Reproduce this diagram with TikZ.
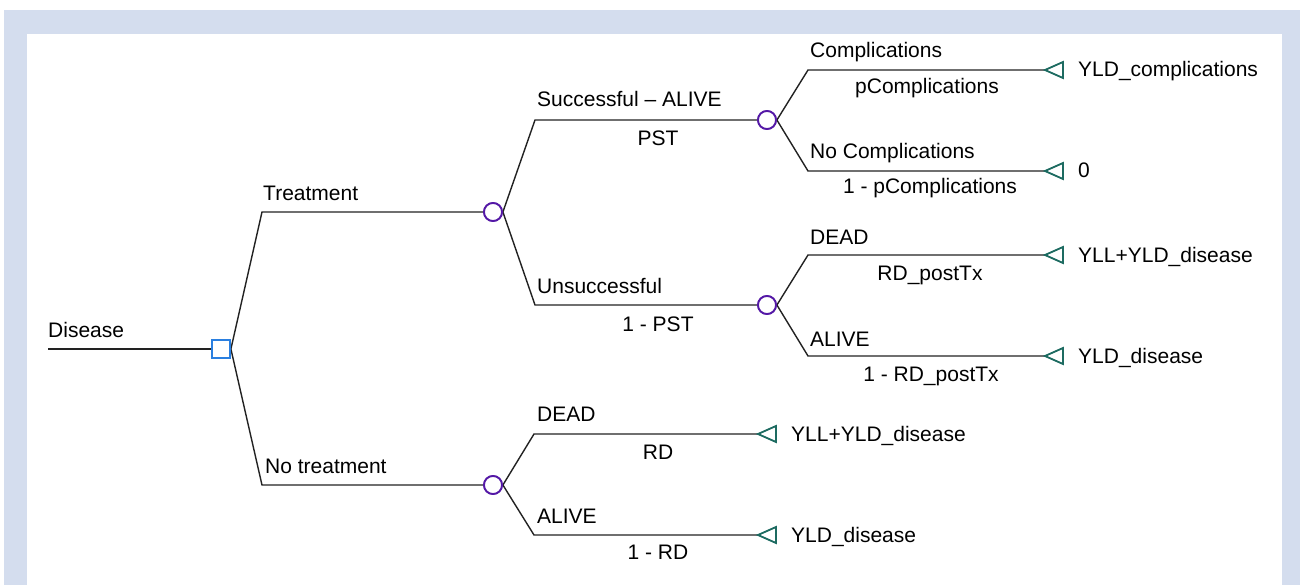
\documentclass[tikz,border=0pt]{standalone}
\usepackage{fontspec}
\setmainfont{Liberation Sans}
\definecolor{bgblue}{HTML}{D4DDEE}
\definecolor{decblue}{HTML}{2A7FE0}
\definecolor{chpurple}{HTML}{5418A6}
\definecolor{termteal}{HTML}{1D6B61}
\definecolor{brline}{HTML}{222222}
\begin{document}
\begin{tikzpicture}[x=1pt,y=-1pt,
  txt/.style={font=\fontsize{21}{25}\selectfont, inner sep=0pt, text=black},
  namelbl/.style={txt, anchor=base west},
  problbl/.style={txt, anchor=base},
  termlbl/.style={txt, anchor=base west},
  br/.style={draw=brline, line width=1.4pt},
  decnode/.style={draw=decblue, line width=1.8pt, rectangle, minimum size=18pt, inner sep=0pt, fill=white},
  chancenode/.style={draw=chpurple, line width=1.8pt, circle, minimum size=18pt, inner sep=0pt, fill=white},
  termtri/.style={draw=termteal, line width=1.8pt, line join=miter}
]
\useasboundingbox (0,0) rectangle (1300,585);
\fill[bgblue] (4,10) rectangle (1300,585);
\fill[white] (27,34) rectangle (1282,585);

% nodes
\coordinate (root) at (48,349);
\node[decnode] (d) at (221,349) {};
\node[chancenode] (c1) at (493,212) {};
\node[chancenode] (c2) at (767,120) {};
\node[chancenode] (c3) at (767,305) {};
\node[chancenode] (c4) at (493,485) {};

% bend points
\coordinate (bT) at (262,212);
\coordinate (bN) at (262,485);
\coordinate (bS) at (535,120);
\coordinate (bU) at (535,305);
\coordinate (bC) at (808,70);
\coordinate (bNC) at (808,171);
\coordinate (bD1) at (808,255);
\coordinate (bA1) at (808,356);
\coordinate (bD2) at (534,434);
\coordinate (bA2) at (534,535);

% terminal apexes
\coordinate (t1) at (1045,70);
\coordinate (t2) at (1045,171);
\coordinate (t3) at (1045,255);
\coordinate (t4) at (1045,356);
\coordinate (t5) at (758,434);
\coordinate (t6) at (758,535);

% connectors
\draw[br] (root) -- (d.west);
\draw[br] (d.east) -- (bT) -- (c1.west);
\draw[br] (d.east) -- (bN) -- (c4.west);
\draw[br] (c1.east) -- (bS) -- (c2.west);
\draw[br] (c1.east) -- (bU) -- (c3.west);
\draw[br] (c2.east) -- (bC) -- (t1);
\draw[br] (c2.east) -- (bNC) -- (t2);
\draw[br] (c3.east) -- (bD1) -- (t3);
\draw[br] (c3.east) -- (bA1) -- (t4);
\draw[br] (c4.east) -- (bD2) -- (t5);
\draw[br] (c4.east) -- (bA2) -- (t6);

% redraw nodes on top
\node[decnode] at (d) {};
\foreach \c in {c1,c2,c3,c4} \node[chancenode] at (\c) {};

% terminal triangles
\foreach \t in {t1,t2,t3,t4,t5,t6}
  \draw[termtri] (\t) -- ++(18,-8) -- ++(0,16) -- cycle;

% labels
\node[namelbl] (lDis) at (48,337) {Disease};
\node[namelbl] (lTr) at (263,201) {Treatment};
\node[namelbl] (lNT) at (265,473) {No treatment};
\node[namelbl] (lSA) at (537,107) {Successful -- ALIVE};
\node[problbl] (pSA) at (658,146) {PST};
\node[namelbl] (lUn) at (537,293) {Unsuccessful};
\node[problbl] (pUn) at (658,331) {1 - PST};
\node[namelbl] (lCo) at (810,58) {Complications};
\node[problbl] (pCo) at (927,94) {pComplications};
\node[namelbl] (lNC) at (810,159) {No Complications};
\node[problbl] (pNC) at (930,194) {1 - pComplications};
\node[namelbl] (lD1) at (810,244) {DEAD};
\node[problbl] (pD1) at (930,280) {RD\_postTx};
\node[namelbl] (lA1) at (810,346) {ALIVE};
\node[problbl] (pA1) at (931,381) {1 - RD\_postTx};
\node[namelbl] (lD2) at (537,421) {DEAD};
\node[problbl] (pD2) at (658,459) {RD};
\node[namelbl] (lA2) at (537,523) {ALIVE};
\node[problbl] (pA2) at (658,559) {1 - RD};

% terminal labels
\node[termlbl] (v1) at (1078,77) {YLD\_complications};
\node[termlbl] (v2) at (1078,178) {0};
\node[termlbl] (v3) at (1078,262) {YLL+YLD\_disease};
\node[termlbl] (v4) at (1078,363) {YLD\_disease};
\node[termlbl] (v5) at (791,441) {YLL+YLD\_disease};
\node[termlbl] (v6) at (791,542) {YLD\_disease};
\end{tikzpicture}
\end{document}
